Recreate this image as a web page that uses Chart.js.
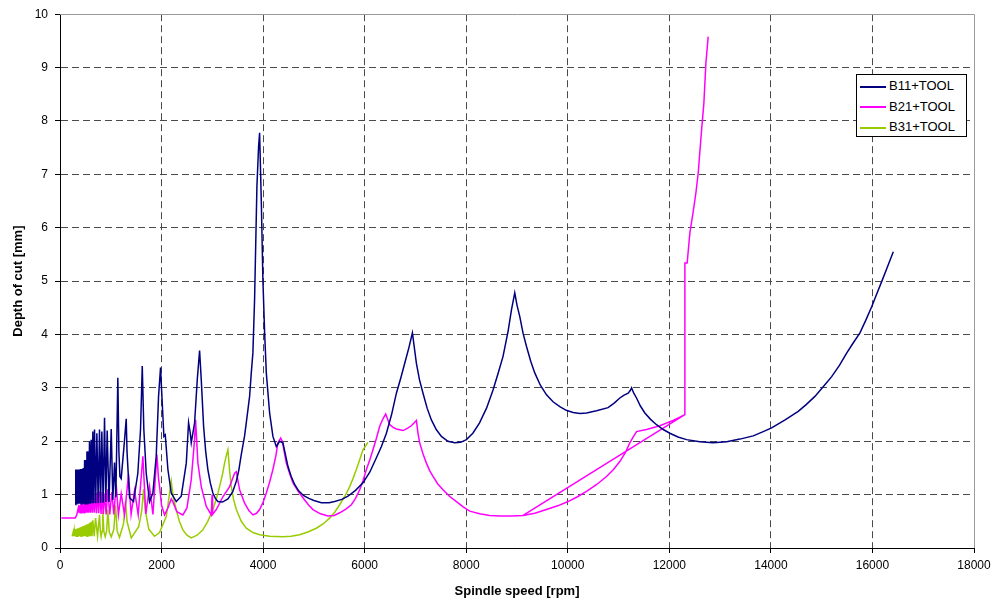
<!DOCTYPE html>
<html>
<head>
<meta charset="utf-8">
<title>Stability lobes - depth of cut vs spindle speed</title>
<script src="https://cdn.jsdelivr.net/npm/chart.js@4.4.0/dist/chart.umd.min.js"></script>
<style>
  html, body { margin: 0; padding: 0; background: #fff; }
  #wrap { position: relative; width: 1000px; height: 602px; }
  #legend {
    position: absolute; left: 856px; top: 74px; width: 109px; height: 61px;
    border: 1px solid #000; background: #fff;
    font-family: Arial, "Liberation Sans", sans-serif; font-size: 13px; color: #000;
  }
  #legend div { position: absolute; left: 0; height: 20px; line-height: 20px; white-space: nowrap; }
  #legend i { display: inline-block; width: 26px; height: 0; border-top: 2px solid; vertical-align: middle; margin: 0 3px 0 3px; }
</style>
</head>
<body>
<div id="wrap">
  <canvas id="chart" width="1000" height="602"></canvas>
  <div id="legend"></div>
</div>
<script>
/* values: spindle speed [rpm] / depth of cut [mm] */
var SERIES_NAMES = ['B11+TOOL', 'B21+TOOL', 'B31+TOOL'];
var SERIES_COLORS = ['#000080', '#ff00ff', '#99cc00'];

var X_TICKS = [0, 2000, 4000, 6000, 8000, 10000, 12000, 14000, 16000, 18000];
var Y_TICKS = [0, 1, 2, 3, 4, 5, 6, 7, 8, 9, 10];

var b11Speed = [305, 310, 320, 333, 344, 356, 368, 380, 392, 404,
  417, 430, 443, 457, 471, 485, 493, 502, 515, 530,
  540, 548, 565, 581, 597, 614, 630, 647, 663, 680,
  703, 726, 752, 778, 800, 824, 850, 877, 903, 929,
  965, 1009, 1040, 1074, 1100, 1139, 1160, 1180, 1205, 1260,
  1290, 1304, 1320, 1370, 1448, 1533, 1586, 1620, 1651, 1698,
  1764, 1829, 1895, 1941, 1980, 2007, 2046, 2073, 2125, 2191,
  2290, 2388, 2487, 2532, 2566, 2585, 2650, 2703, 2749, 2782,
  2828, 2870, 2912, 2960, 3011, 3060, 3109, 3200, 3307, 3400,
  3472, 3520, 3570, 3635, 3669, 3734, 3767, 3799, 3832, 3878,
  3911, 3931, 3965, 3996, 4030, 4063, 4128, 4193, 4260, 4325,
  4390, 4489, 4550, 4621, 4700, 4800, 4900, 5000, 5147, 5300,
  5409, 5550, 5671, 5820, 5967, 6100, 6231, 6330, 6428, 6530,
  6625, 6710, 6789, 6870, 6940, 7019, 7080, 7149, 7230, 7314,
  7410, 7511, 7640, 7773, 7890, 8004, 8130, 8260, 8400, 8528,
  8630, 8725, 8824, 8891, 8956, 9000, 9054, 9120, 9186, 9270,
  9350, 9460, 9581, 9710, 9843, 9970, 10105, 10240, 10369, 10566,
  10794, 10920, 11025, 11100, 11189, 11230, 11256, 11300, 11354, 11430,
  11518, 11630, 11748, 11880, 12010, 12170, 12339, 12600, 12863, 13130,
  13389, 13652, 13849, 14014, 14280, 14538, 14700, 14867, 15030, 15197,
  15350, 15492, 15620, 15754, 15870, 15985, 16080, 16182, 16300, 16411];
var b11Depth = [0.81, 1.47, 0.83, 1.47, 0.83, 1.47, 0.83, 1.47, 0.83, 1.48,
  0.83, 1.48, 0.83, 1.50, 0.83, 1.65, 0.83, 1.65, 0.83, 1.81,
  0.83, 1.81, 0.83, 2.00, 0.83, 2.03, 0.84, 2.18, 0.84, 2.22,
  0.84, 2.15, 0.84, 2.22, 0.85, 2.18, 0.85, 2.44, 0.86, 2.20,
  0.86, 2.23, 0.90, 1.60, 0.95, 3.19, 1.80, 1.34, 1.30, 1.90,
  2.25, 2.42, 1.80, 0.94, 0.87, 1.40, 2.22, 3.41, 2.22, 1.40,
  0.87, 1.03, 1.72, 2.84, 3.38, 2.84, 2.09, 2.12, 1.47, 1.03,
  0.87, 0.97, 1.59, 2.35, 2.15, 1.97, 2.34, 3.15, 3.70, 3.15,
  2.28, 1.80, 1.47, 1.22, 1.03, 0.93, 0.87, 0.86, 0.92, 1.05,
  1.25, 1.45, 1.75, 2.10, 2.35, 2.84, 3.28, 3.66, 4.65, 6.77,
  7.52, 7.78, 6.47, 5.02, 4.03, 3.28, 2.53, 2.09, 1.90, 2.00,
  1.97, 1.53, 1.35, 1.19, 1.07, 0.98, 0.93, 0.89, 0.85, 0.85,
  0.87, 0.91, 0.97, 1.08, 1.22, 1.42, 1.69, 1.90, 2.15, 2.50,
  2.90, 3.18, 3.46, 3.75, 4.03, 3.46, 3.15, 2.90, 2.62, 2.40,
  2.22, 2.09, 2.00, 1.97, 1.98, 2.03, 2.15, 2.34, 2.62, 2.96,
  3.28, 3.59, 4.06, 4.46, 4.78, 4.55, 4.34, 4.02, 3.78, 3.50,
  3.28, 3.05, 2.87, 2.74, 2.65, 2.58, 2.54, 2.52, 2.53, 2.57,
  2.63, 2.72, 2.81, 2.86, 2.90, 2.95, 3.00, 2.90, 2.81, 2.66,
  2.53, 2.41, 2.31, 2.22, 2.15, 2.08, 2.03, 1.99, 1.97, 1.99,
  2.04, 2.10, 2.18, 2.25, 2.40, 2.56, 2.69, 2.84, 3.02, 3.21,
  3.42, 3.65, 3.84, 4.03, 4.27, 4.52, 4.75, 4.99, 5.28, 5.55];

var b21Speed = [25, 300, 330, 360, 372, 384, 396, 408, 420, 433,
  446, 459, 473, 487, 501, 516, 531, 547, 563, 580,
  597, 615, 634, 653, 673, 694, 716, 738, 760, 785,
  808, 830, 852, 877, 908, 942, 980, 1021, 1060, 1107,
  1150, 1205, 1270, 1350, 1400, 1468, 1540, 1632, 1690, 1764,
  1830, 1908, 1940, 1961, 2000, 2059, 2125, 2191, 2230, 2300,
  2420, 2500, 2585, 2650, 2670, 2716, 2782, 2881, 2979, 2995,
  3005, 3078, 3208, 3340, 3439, 3472, 3537, 3636, 3720, 3799,
  3870, 3931, 4000, 4063, 4130, 4193, 4250, 4292, 4345, 4378,
  4457, 4520, 4588, 4700, 4818, 4900, 4981, 5130, 5277, 5400,
  5508, 5630, 5738, 5820, 5902, 5970, 6034, 6100, 6164, 6230,
  6296, 6360, 6414, 6493, 6560, 6625, 6755, 6840, 6920, 7019,
  7050, 7084, 7150, 7216, 7280, 7346, 7440, 7543, 7670, 7807,
  7940, 8069, 8266, 8460, 8660, 8900, 9120, 9350, 9580, 9800,
  10006, 10190, 10369, 10570, 10763, 10900, 11025, 11130, 11222, 11290,
  11354, 11551, 11813, 12075, 12306, 9120, 12306, 12306, 12351, 12404,
  12470, 12523, 12568, 12635, 12680, 12720, 12765];
var b21Depth = [0.56, 0.56, 0.62, 0.75, 0.66, 0.80, 0.66, 0.82, 0.66, 0.84,
  0.66, 0.86, 0.66, 0.88, 0.66, 0.90, 0.66, 0.92, 0.66, 0.95,
  0.66, 0.98, 0.66, 1.00, 0.66, 1.03, 0.65, 1.05, 0.65, 1.06,
  0.64, 1.05, 0.64, 1.02, 0.63, 1.10, 0.63, 1.05, 0.63, 1.19,
  0.62, 1.02, 0.62, 1.38, 0.63, 1.08, 0.62, 1.72, 0.64, 1.15,
  0.63, 1.75, 1.30, 1.15, 0.80, 0.62, 0.75, 0.92, 0.85, 0.68,
  0.62, 0.75, 1.28, 2.03, 2.40, 1.59, 1.15, 0.78, 0.62, 1.00,
  0.63, 0.72, 0.96, 1.15, 1.40, 1.43, 1.09, 0.84, 0.70, 0.62,
  0.65, 0.72, 0.86, 1.03, 1.24, 1.47, 1.72, 1.97, 2.06, 2.00,
  1.59, 1.40, 1.22, 1.05, 0.90, 0.80, 0.72, 0.64, 0.60, 0.61,
  0.66, 0.73, 0.81, 0.93, 1.09, 1.27, 1.47, 1.65, 1.84, 2.05,
  2.28, 2.42, 2.51, 2.31, 2.26, 2.23, 2.20, 2.24, 2.29, 2.39,
  2.15, 1.97, 1.76, 1.59, 1.45, 1.34, 1.20, 1.09, 0.97, 0.87,
  0.77, 0.69, 0.64, 0.61, 0.60, 0.60, 0.61, 0.65, 0.72, 0.79,
  0.87, 0.96, 1.06, 1.19, 1.34, 1.47, 1.62, 1.78, 1.97, 2.08,
  2.18, 2.22, 2.29, 2.39, 2.50, 0.61, 2.50, 5.34, 5.34, 5.90,
  6.30, 6.65, 7.02, 7.83, 8.33, 9.08, 9.58];

var b31Speed = [240, 260, 270, 282, 294, 306, 318, 330, 342, 354,
  366, 378, 390, 403, 416, 429, 442, 456, 470, 484,
  499, 516, 532, 548, 564, 581, 597, 614, 630, 647,
  673, 700, 739, 778, 795, 810, 828, 843, 865, 890,
  920, 942, 970, 1010, 1060, 1094, 1125, 1172, 1250, 1291,
  1320, 1403, 1550, 1610, 1645, 1680, 1750, 1862, 1960, 2093,
  2158, 2191, 2230, 2290, 2350, 2420, 2500, 2585, 2700, 2814,
  2910, 3011, 3080, 3143, 3200, 3241, 3280, 3307, 3340, 3373,
  3420, 3472, 3570, 3669, 3800, 3931, 4128, 4390, 4550, 4719,
  4880, 5048, 5180, 5310, 5410, 5508, 5610, 5705, 5770, 5836,
  5900, 5967, 6065];
var b31Depth = [0.22, 0.30, 0.22, 0.33, 0.22, 0.35, 0.22, 0.36, 0.22, 0.37,
  0.22, 0.38, 0.22, 0.39, 0.22, 0.40, 0.22, 0.41, 0.22, 0.42,
  0.22, 0.44, 0.22, 0.45, 0.22, 0.47, 0.22, 0.49, 0.22, 0.52,
  0.22, 0.56, 0.22, 0.62, 0.30, 0.21, 0.32, 0.69, 0.30, 0.21,
  0.33, 0.72, 0.30, 0.21, 0.35, 0.80, 0.32, 0.20, 0.45, 0.88,
  0.50, 0.19, 0.40, 0.70, 1.10, 0.70, 0.35, 0.22, 0.29, 0.59,
  1.03, 1.25, 0.95, 0.72, 0.50, 0.34, 0.24, 0.19, 0.24, 0.34,
  0.50, 0.72, 0.92, 1.15, 1.38, 1.59, 1.75, 1.84, 1.45, 1.15,
  0.90, 0.72, 0.50, 0.37, 0.29, 0.25, 0.22, 0.21, 0.22, 0.25,
  0.30, 0.37, 0.45, 0.56, 0.67, 0.81, 0.97, 1.15, 1.30, 1.47,
  1.65, 1.84, 1.98];

(function () {
  'use strict';

  var FONT = 'Arial, "Liberation Sans", sans-serif';

  function toPoints(xs, ys) {
    var pts = [];
    for (var i = 0; i < Math.min(xs.length, ys.length); i++) {
      pts.push({ x: xs[i], y: ys[i] });
    }
    return pts;
  }

  var seriesData = [
    toPoints(b11Speed, b11Depth),
    toPoints(b21Speed, b21Depth),
    toPoints(b31Speed, b31Depth)
  ];

  // light grey frame on the top and right of the plot area
  var plotFrame = {
    id: 'plotFrame',
    beforeDatasetsDraw: function (chart) {
      var a = chart.chartArea;
      var c = chart.ctx;
      c.save();
      c.strokeStyle = '#9a9a9a';
      c.lineWidth = 1;
      c.beginPath();
      c.moveTo(a.left, Math.round(a.top) + 0.5);
      c.lineTo(Math.round(a.right) + 0.5, Math.round(a.top) + 0.5);
      c.lineTo(Math.round(a.right) + 0.5, a.bottom);
      c.stroke();
      c.restore();
    }
  };

  function gridColor(edge) {
    return function (ctx) {
      return ctx.tick && ctx.tick.value === edge ? 'rgba(0,0,0,0)' : '#4a4a4a';
    };
  }

  function plainLabel(v) { return String(v); }

  var datasets = seriesData.map(function (pts, i) {
    return {
      label: SERIES_NAMES[i],
      data: pts,
      showLine: true,
      borderColor: SERIES_COLORS[i],
      backgroundColor: SERIES_COLORS[i],
      borderWidth: 1.5,
      pointRadius: 0,
      tension: 0
    };
  });

  new Chart(document.getElementById('chart'), {
    type: 'scatter',
    data: { datasets: datasets },
    options: {
      responsive: false,
      animation: false,
      layout: { padding: { top: 14, right: 26, left: 0, bottom: 0 } },
      plugins: { legend: { display: false }, tooltip: { enabled: false } },
      scales: {
        x: {
          type: 'linear',
          min: X_TICKS[0],
          max: X_TICKS[X_TICKS.length - 1],
          afterBuildTicks: function (s) { s.ticks = X_TICKS.map(function (v) { return { value: v }; }); },
          afterFit: function (s) { s.height = 54; },
          ticks: { color: '#000', font: { family: FONT, size: 12 }, padding: 5, maxRotation: 0, autoSkip: false, callback: plainLabel },
          grid: { color: gridColor(18000), lineWidth: 1, tickLength: 5, tickColor: '#000' },
          border: { color: '#000', width: 1, dash: [7, 4] },
          title: { display: true, text: 'Spindle speed [rpm]', color: '#000', font: { family: FONT, size: 13, weight: 'bold' }, padding: { top: 0, bottom: 3 } }
        },
        y: {
          type: 'linear',
          min: Y_TICKS[0],
          max: Y_TICKS[Y_TICKS.length - 1],
          afterBuildTicks: function (s) { s.ticks = Y_TICKS.map(function (v) { return { value: v }; }); },
          afterFit: function (s) { s.width = 60; },
          ticks: { color: '#000', font: { family: FONT, size: 12 }, padding: 7, autoSkip: false, callback: plainLabel },
          grid: { color: gridColor(10), lineWidth: 1, tickLength: 5, tickColor: '#000' },
          border: { color: '#000', width: 1, dash: [7, 4] },
          title: { display: true, text: 'Depth of cut [mm]', color: '#000', font: { family: FONT, size: 13, weight: 'bold' }, padding: { top: 11, bottom: 0 } }
        }
      }
    },
    plugins: [plotFrame]
  });

  // legend box, built from the same names and colours
  var legend = document.getElementById('legend');
  SERIES_NAMES.forEach(function (name, i) {
    var row = document.createElement('div');
    row.style.top = (1 + i * 20.5) + 'px';
    row.innerHTML = '<i style="border-color:' + SERIES_COLORS[i] + '"></i>' + name;
    legend.appendChild(row);
  });
})();
</script>
</body>
</html>
